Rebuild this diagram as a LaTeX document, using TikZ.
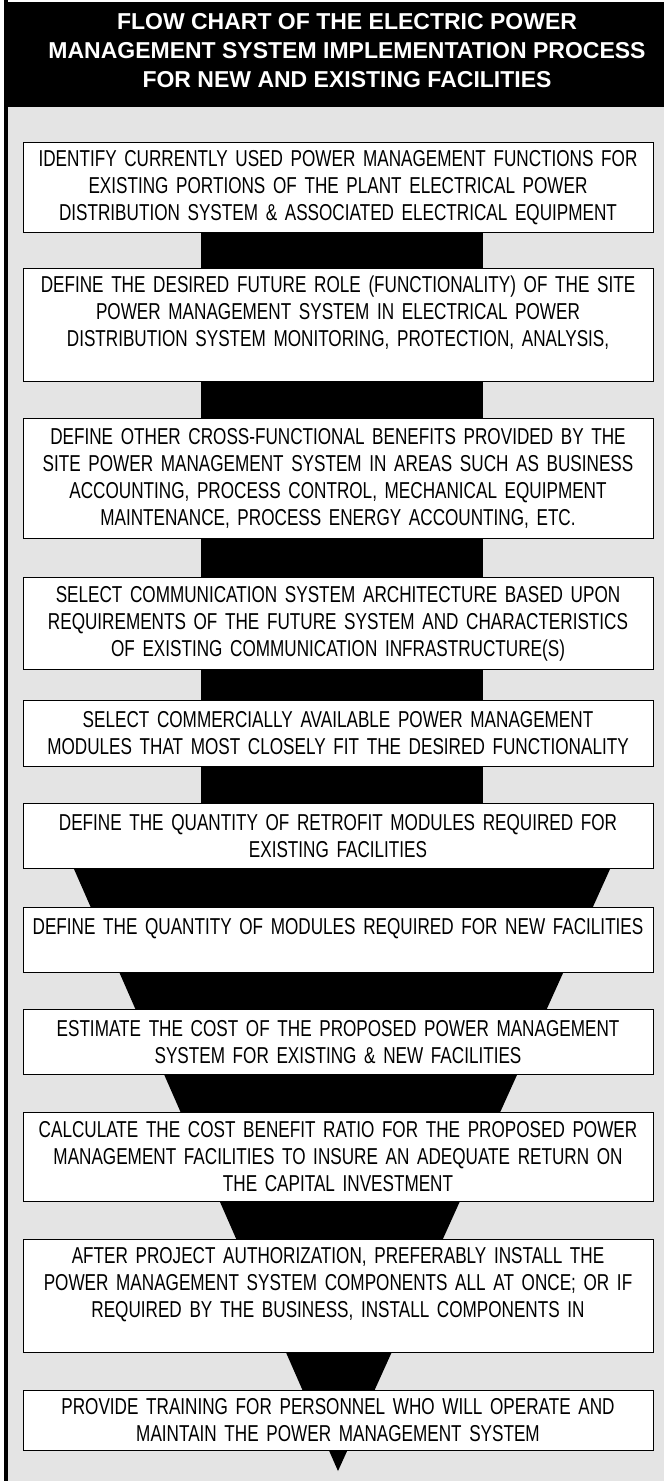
\documentclass[tikz,border=0pt]{standalone}
\usepackage{fontspec}
\setmainfont{Liberation Sans}[FakeStretch=0.745]
\newfontfamily\headfont{Liberation Sans}
\usetikzlibrary{positioning}

\definecolor{panelgray}{RGB}{228,228,228}

\tikzset{
  stepbox/.style={draw=black, line width=1pt, fill=white, minimum width=630pt,
    text width=626pt, align=center, inner sep=0pt,
    font=\fontsize{23}{27}\selectfont},
  headband/.style={fill=black, text=white, align=center, inner sep=0pt,
    font=\headfont\bfseries\fontsize{23}{29}\selectfont},
  blockarrow/.style={fill=black}
}

\begin{document}
\begin{tikzpicture}[x=1pt, y=1pt, node distance=37pt]
  \useasboundingbox (0,0) rectangle (664,-1481);
  % frame and panel
  \fill[panelgray] (8,-107) rectangle (664,-1481);
  \fill[black] (4,-2) rectangle (664,-107);
  \fill[black] (4,0) rectangle (8,-1481);
  \node (title) [headband] at (347,-51)
    {FLOW CHART OF THE ELECTRIC POWER\\
     MANAGEMENT SYSTEM IMPLEMENTATION PROCESS\\
     FOR NEW AND EXISTING FACILITIES};

  % steps
  \node (b1)  [stepbox, minimum height=90pt, anchor=north] at (338,-142)
    {IDENTIFY CURRENTLY USED POWER MANAGEMENT FUNCTIONS FOR\\
     EXISTING PORTIONS OF THE PLANT ELECTRICAL POWER\\
     DISTRIBUTION SYSTEM \& ASSOCIATED ELECTRICAL EQUIPMENT};
  \node (b2)  [stepbox, minimum height=113pt, below=35pt of b1]
    {DEFINE THE DESIRED FUTURE ROLE (FUNCTIONALITY) OF THE SITE\\
     POWER MANAGEMENT SYSTEM IN ELECTRICAL POWER\\
     DISTRIBUTION SYSTEM MONITORING, PROTECTION, ANALYSIS,\\ \mbox{}};
  \node (b3)  [stepbox, minimum height=120pt, below=36pt of b2]
    {DEFINE OTHER CROSS-FUNCTIONAL BENEFITS PROVIDED BY THE\\
     SITE POWER MANAGEMENT SYSTEM IN AREAS SUCH AS BUSINESS\\
     ACCOUNTING, PROCESS CONTROL, MECHANICAL EQUIPMENT\\
     MAINTENANCE, PROCESS ENERGY ACCOUNTING, ETC.};
  \node (b4)  [stepbox, minimum height=92pt, below=38pt of b3]
    {SELECT COMMUNICATION SYSTEM ARCHITECTURE BASED UPON\\
     REQUIREMENTS OF THE FUTURE SYSTEM AND CHARACTERISTICS\\
     OF EXISTING COMMUNICATION INFRASTRUCTURE(S)};
  \node (b5)  [stepbox, minimum height=66pt, below=30pt of b4]
    {SELECT COMMERCIALLY AVAILABLE POWER MANAGEMENT\\
     MODULES THAT MOST CLOSELY FIT THE DESIRED FUNCTIONALITY};
  \node (b6)  [stepbox, minimum height=65pt, below=36pt of b5]
    {DEFINE THE QUANTITY OF RETROFIT MODULES REQUIRED FOR\\
     EXISTING FACILITIES};
  \node (b7)  [stepbox, minimum height=65pt, below=38pt of b6]
    {DEFINE THE QUANTITY OF MODULES REQUIRED FOR NEW FACILITIES\\ \mbox{}};
  \node (b8)  [stepbox, minimum height=65pt, below=36pt of b7]
    {ESTIMATE THE COST OF THE PROPOSED POWER MANAGEMENT\\
     SYSTEM FOR EXISTING \& NEW FACILITIES};
  \node (b9)  [stepbox, minimum height=89pt, below=of b8]
    {CALCULATE THE COST BENEFIT RATIO FOR THE PROPOSED POWER\\
     MANAGEMENT FACILITIES TO INSURE AN ADEQUATE RETURN ON\\
     THE CAPITAL INVESTMENT};
  \node (b10) [stepbox, minimum height=113pt, below=of b9]
    {AFTER PROJECT AUTHORIZATION, PREFERABLY INSTALL THE\\
     POWER MANAGEMENT SYSTEM COMPONENTS ALL AT ONCE; OR IF\\
     REQUIRED BY THE BUSINESS, INSTALL COMPONENTS IN\\ \mbox{}};
  \node (b11) [stepbox, minimum height=60pt, below=of b10]
    {PROVIDE TRAINING FOR PERSONNEL WHO WILL OPERATE AND\\
     MAINTAIN THE POWER MANAGEMENT SYSTEM};

  % straight block arrows
  \coordinate (cl) at (201,0);
  \coordinate (cr) at (483,0);
  \foreach \a/\b in {b1/b2, b2/b3, b3/b4, b4/b5, b5/b6}
    \fill[blockarrow] (\a.south -| cl) rectangle (\b.north -| cr);

  % funnel arrows
  \coordinate[left=264pt of b6.south] (fl);
  \coordinate[right=272pt of b6.south] (fr);
  \coordinate[below=20pt of b11] (tip);
  \foreach \a/\b in {b6/b7, b7/b8, b8/b9, b9/b10, b10/b11}
    \fill[blockarrow]
      (intersection of fl--tip and \a.south west--\a.south east) --
      (intersection of fr--tip and \a.south west--\a.south east) --
      (intersection of fr--tip and \b.north west--\b.north east) --
      (intersection of fl--tip and \b.north west--\b.north east) -- cycle;
  \fill[blockarrow]
    (intersection of fl--tip and b11.south west--b11.south east) --
    (intersection of fr--tip and b11.south west--b11.south east) -- (tip) -- cycle;
\end{tikzpicture}
\end{document}
